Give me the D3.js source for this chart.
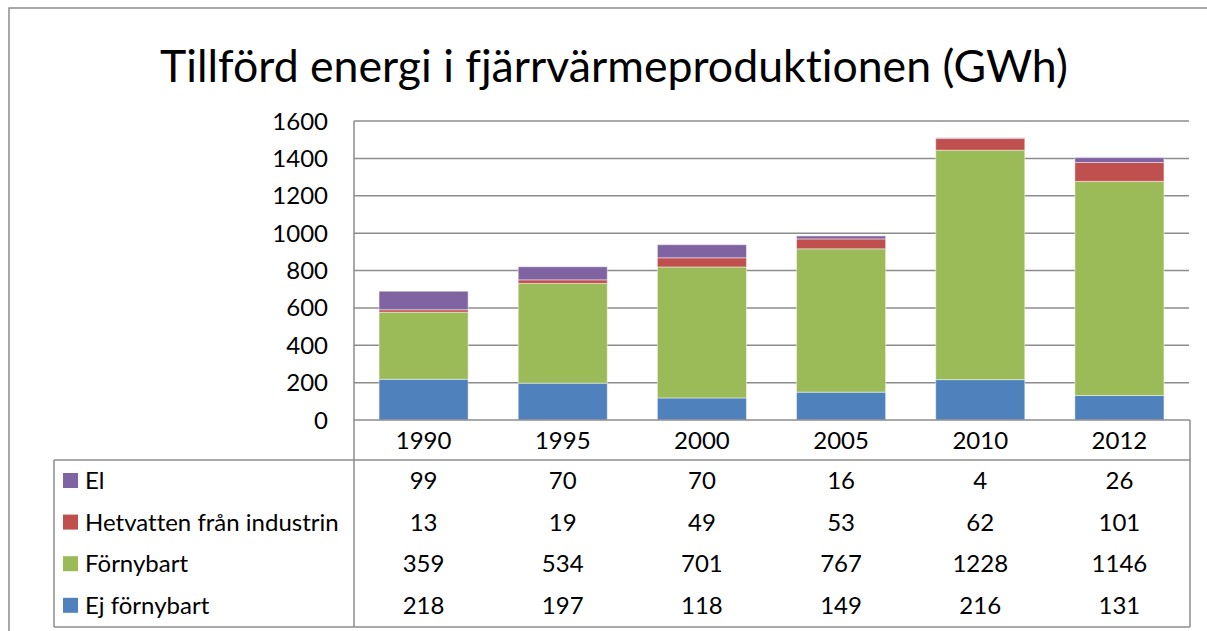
<!DOCTYPE html>
<html>
<head>
<meta charset="utf-8">
<script src="https://cdn.jsdelivr.net/npm/d3@7"></script>
<style>
  body { margin: 0; background: #fff; }
  text { font-family: Lato, "Open Sans", sans-serif; fill: #000; font-variant-ligatures: none; }
</style>
</head>
<body>
<div id="chart"></div>
<script>
var years = ["1990", "1995", "2000", "2005", "2010", "2012"];
var seriesNames = ["Ej förnybart", "Förnybart", "Hetvatten från industrin", "El"];
var ejFornybart = [218, 197, 118, 149, 216, 131];
var fornybart = [359, 534, 701, 767, 1228, 1146];
var hetvatten = [13, 19, 49, 53, 62, 101];
var el = [99, 70, 70, 16, 4, 26];
var yTicks = [0, 200, 400, 600, 800, 1000, 1200, 1400, 1600];
var colors = ["#4F81BD", "#9BBB59", "#C0504D", "#8064A2"];

var width = 1207, height = 631;
var lineColor = "#8c8c8c";
var fs = "24px";

var svg = d3.select("#chart").append("svg")
    .attr("width", width)
    .attr("height", height);

// outer chart frame
svg.append("rect")
    .attr("x", 9).attr("y", 8)
    .attr("width", 1220).attr("height", 650)
    .attr("fill", "#fff")
    .attr("stroke", lineColor)
    .attr("stroke-width", 1.5);

// title, fitted to the width it has in the original
var title = svg.append("text")
    .attr("x", 614).attr("y", 82)
    .attr("text-anchor", "middle")
    .style("font-size", "44px")
    .text("Tillförd energi i fjärrvärmeproduktionen (GWh)");
var tw = title.node().getComputedTextLength();
title.style("font-size", (44 * 908 / tw) + "px");

var x = d3.scaleBand()
    .domain(years)
    .range([354, 1189])
    .paddingInner(0.36)
    .paddingOuter(0.18);

var y = d3.scaleLinear()
    .domain([0, 1600])
    .range([420, 121]);

// gridlines
svg.append("g")
    .selectAll("line")
    .data(yTicks.slice(1))
    .enter().append("line")
    .attr("x1", 354).attr("x2", 1189)
    .attr("y1", function (d) { return y(d); })
    .attr("y2", function (d) { return y(d); })
    .attr("stroke", lineColor)
    .attr("stroke-width", 1.5);

// y tick labels
svg.append("g")
    .selectAll("text")
    .data(yTicks)
    .enter().append("text")
    .attr("x", 328)
    .attr("y", function (d) { return y(d) + 8.5; })
    .attr("text-anchor", "end")
    .style("font-size", fs)
    .text(function (d) { return d; });

// stacked bars
var table = years.map(function (yr, i) {
    return { year: yr, s0: ejFornybart[i], s1: fornybart[i], s2: hetvatten[i], s3: el[i] };
});
var stack = d3.stack().keys(["s0", "s1", "s2", "s3"]);
var layers = stack(table);

svg.append("g")
    .selectAll("g")
    .data(layers)
    .enter().append("g")
    .attr("fill", function (d, i) { return colors[i]; })
    .selectAll("rect")
    .data(function (d) { return d; })
    .enter().append("rect")
    .attr("x", function (d) { return x(d.data.year); })
    .attr("width", x.bandwidth())
    .attr("y", function (d) { return y(d[1]); })
    .attr("height", function (d) { return y(d[0]) - y(d[1]); })
    .attr("stroke", "rgba(255,255,255,0.45)")
    .attr("stroke-width", 1);

// data table lines
var rowTop = 460, rowH = 41.6, tableBottom = 627;
var grid = svg.append("g")
    .attr("stroke", lineColor)
    .attr("stroke-width", 1.5);
grid.append("line").attr("x1", 354).attr("x2", 1190).attr("y1", 420).attr("y2", 420);
grid.append("line").attr("x1", 54).attr("x2", 1190).attr("y1", rowTop).attr("y2", rowTop);
grid.append("line").attr("x1", 54).attr("x2", 1190).attr("y1", tableBottom).attr("y2", tableBottom);
grid.append("line").attr("x1", 354).attr("x2", 354).attr("y1", 121).attr("y2", tableBottom);
grid.append("line").attr("x1", 54).attr("x2", 54).attr("y1", rowTop).attr("y2", tableBottom);
grid.append("line").attr("x1", 1190).attr("x2", 1190).attr("y1", 420).attr("y2", tableBottom);

// category labels
svg.append("g")
    .selectAll("text")
    .data(years)
    .enter().append("text")
    .attr("x", function (d) { return x(d) + x.bandwidth() / 2; })
    .attr("y", 448.5)
    .attr("text-anchor", "middle")
    .style("font-size", fs)
    .text(function (d) { return d; });

// table rows, top row is the top series
var rows = [
    { name: seriesNames[3], color: colors[3], values: el },
    { name: seriesNames[2], color: colors[2], values: hetvatten },
    { name: seriesNames[1], color: colors[1], values: fornybart },
    { name: seriesNames[0], color: colors[0], values: ejFornybart }
];

var row = svg.append("g")
    .selectAll("g")
    .data(rows)
    .enter().append("g")
    .attr("transform", function (d, i) { return "translate(0," + (rowTop + i * rowH) + ")"; });

row.append("rect")
    .attr("x", 63).attr("y", 13)
    .attr("width", 15).attr("height", 15)
    .attr("fill", function (d) { return d.color; });

row.append("text")
    .attr("x", 85).attr("y", 29)
    .style("font-size", fs)
    .text(function (d) { return d.name; });

row.selectAll("text.val")
    .data(function (d) { return d.values; })
    .enter().append("text")
    .attr("class", "val")
    .attr("x", function (d, i) { return x(years[i]) + x.bandwidth() / 2; })
    .attr("y", 29)
    .attr("text-anchor", "middle")
    .style("font-size", fs)
    .text(function (d) { return d; });
</script>
</body>
</html>
